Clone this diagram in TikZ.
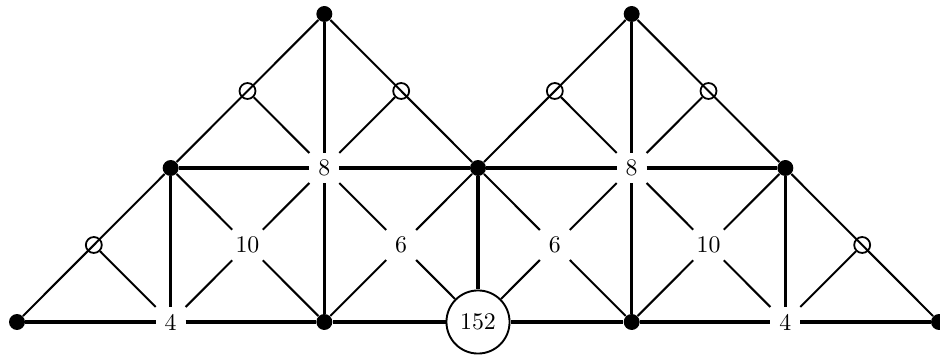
\documentclass[tikz,border=0pt]{standalone}
\begin{document}
\begin{tikzpicture}[x=64.54pt,y=64.68pt,
  dot/.style={circle,fill=black,inner sep=0pt,minimum size=6.7pt},
  odot/.style={circle,draw=black,line width=0.75pt,fill=none,inner sep=0pt,minimum size=6.7pt},
  lab/.style={rectangle,inner xsep=3.6pt,inner ysep=2.8pt,font=\normalsize},
  big/.style={circle,draw=black,line width=0.8pt,fill=white,inner sep=0pt,minimum size=26.5pt},
  thick line/.style={line width=1.4pt},
  thin line/.style={line width=0.85pt}]
\useasboundingbox (-0.1106,-0.2143) rectangle (6.0064,2.0909);
% filled dots
\node[dot] (d00) at (0,0) {};
\node[dot] (d20) at (2,0) {};
\node[dot] (d40) at (4,0) {};
\node[dot] (d60) at (6,0) {};
\node[dot] (d11) at (1,1) {};
\node[dot] (d31) at (3,1) {};
\node[dot] (d51) at (5,1) {};
\node[dot] (d22) at (2,2) {};
\node[dot] (d42) at (4,2) {};
% open circles
\node[odot] (o1) at (0.5,0.5) {};
\node[odot] (o2) at (5.5,0.5) {};
\node[odot] (o3) at (1.5,1.5) {};
\node[odot] (o4) at (2.5,1.5) {};
\node[odot] (o5) at (3.5,1.5) {};
\node[odot] (o6) at (4.5,1.5) {};
% labels
\node[lab] (f1) at (1,0) {4};
\node[lab] (f2) at (5,0) {4};
\node[big] (c) at (3,0) {152};
\node[lab] (e1) at (2,1) {8};
\node[lab] (e2) at (4,1) {8};
\node[lab] (t1) at (1.5,0.5) {10};
\node[lab] (s1) at (2.5,0.5) {6};
\node[lab] (s2) at (3.5,0.5) {6};
\node[lab] (t2) at (4.5,0.5) {10};
% thick horizontal / vertical
\draw[thick line] (d00) -- (f1) -- (d20) -- (c) -- (d40) -- (f2) -- (d60);
\draw[thick line] (d11) -- (e1) -- (d31) -- (e2) -- (d51);
\draw[thick line] (d11) -- (f1);
\draw[thick line] (d22) -- (e1) -- (d20);
\draw[thick line] (d31) -- (c);
\draw[thick line] (d42) -- (e2) -- (d40);
\draw[thick line] (d51) -- (f2);
% outer diagonals
\draw[thin line] (d00) -- (d11) -- (d22) -- (d31) -- (d42) -- (d51) -- (d60);
% branches from open circles
\draw[thin line] (o1) -- (f1);
\draw[thin line] (o2) -- (f2);
\draw[thin line] (o3) -- (e1);
\draw[thin line] (o4) -- (e1);
\draw[thin line] (o5) -- (e2);
\draw[thin line] (o6) -- (e2);
% X crosses
\draw[thin line] (d11) -- (t1) -- (d20);
\draw[thin line] (f1) -- (t1) -- (e1);
\draw[thin line] (e1) -- (s1) -- (c);
\draw[thin line] (d20) -- (s1) -- (d31);
\draw[thin line] (d31) -- (s2) -- (d40);
\draw[thin line] (c) -- (s2) -- (e2);
\draw[thin line] (e2) -- (t2) -- (f2);
\draw[thin line] (d40) -- (t2) -- (d51);
\end{tikzpicture}
\end{document}
